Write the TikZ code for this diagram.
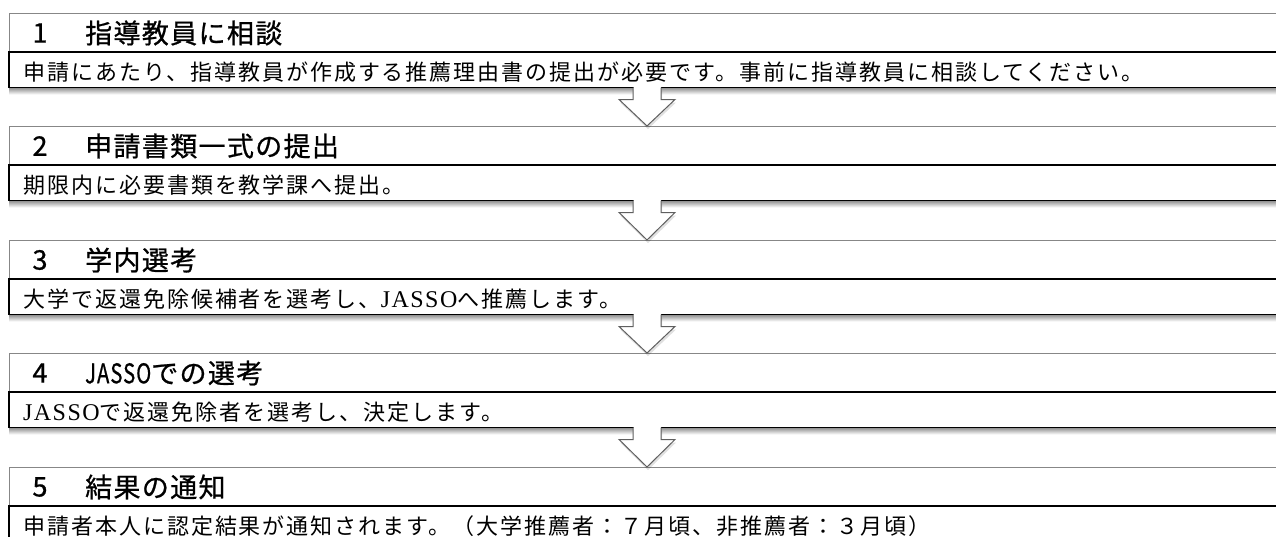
\documentclass[tikz,border=0pt]{standalone}
\usepackage{fontspec}
\usepackage{graphicx}
\newfontfamily\hdrfont{Noto Sans CJK JP}[LetterSpace=5,FakeBold=0.8]
\newfontfamily\bodyfont{Noto Sans CJK JP}[LetterSpace=9]
\newfontfamily\latfont{Liberation Serif}[LetterSpace=6]
\usetikzlibrary{calc}
\definecolor{hdrgray}{RGB}{135,135,135}
\definecolor{arrgray}{RGB}{95,95,95}
\tikzset{
  hdrbox/.style={draw=hdrgray, line width=0.9pt, fill=white, anchor=north west,
    minimum width=1290pt, minimum height=39pt, inner sep=0pt, outer sep=0pt},
  bodybox/.style={draw=black, line width=1.6pt, anchor=north west,
    minimum width=1290pt, minimum height=35.5pt, inner sep=0pt, outer sep=0pt},
  numtext/.style={inner sep=0pt, font=\hdrfont\fontsize{27}{32}\selectfont},
  hdrtext/.style={anchor=west, inner sep=0pt, font=\hdrfont\fontsize{27}{32}\selectfont},
  bodytext/.style={anchor=west, inner sep=0pt, font=\bodyfont\fontsize{22}{26}\selectfont},
  arrline/.style={draw=arrgray, line width=1pt, line join=miter},
  boxshadow/.style={top color=black!40, bottom color=white}
}
\newcommand\arrpath[2]{([xshift=#1-14pt,yshift=#2]as) -- ([xshift=#1-14pt,yshift=#2-12pt]as) -- ([xshift=#1-28pt,yshift=#2-12pt]as) -- ([xshift=#1,yshift=#2]at) -- ([xshift=#1+28pt,yshift=#2-12pt]as) -- ([xshift=#1+14pt,yshift=#2-12pt]as) -- ([xshift=#1+14pt,yshift=#2]as)}
\newcommand\flowarrow[2]{%
  \path (#1.south -| ax) coordinate (as) (#2.north -| ax) coordinate (at);
  \fill[black,opacity=0.12] \arrpath{1pt}{-3pt} -- cycle;
  \fill[white] \arrpath{0pt}{0pt} -- cycle;
  \fill[white] ([xshift=-13.5pt,yshift=1.2pt]as) rectangle ([xshift=13.5pt,yshift=-2pt]as);
  \draw[arrline] \arrpath{0pt}{0pt};
}
\newcommand\lat[1]{{\latfont\fontsize{24}{28}\selectfont #1}}
\begin{document}
\begin{tikzpicture}[x=1pt,y=-1pt]
\useasboundingbox (0,0) rectangle (1276,536);
\clip (0,0) rectangle (1276,536);
\coordinate (ax) at (647,0);
% boxes
\node[hdrbox] (h1) at (9,13) {};
\node[bodybox] (b1) at (h1.south west) {};
\node[hdrbox] (h2) at (9,126) {};
\node[bodybox] (b2) at (h2.south west) {};
\node[hdrbox] (h3) at (9,240) {};
\node[bodybox] (b3) at (h3.south west) {};
\node[hdrbox] (h4) at (9,353) {};
\node[bodybox] (b4) at (h4.south west) {};
\node[hdrbox] (h5) at (9,467) {};
\node[bodybox] (b5) at (h5.south west) {};
% shadows under body boxes
\foreach \b in {b1,b2,b3,b4}{
  \shade[boxshadow] ([yshift=-0.8pt]\b.south west) rectangle ([yshift=-7pt]\b.south east);
}
% header texts
\node[numtext] (n1) at (40,33) {1};
\node[hdrtext] (t1) at (85,33) {指導教員に相談};
\node[numtext] (n2) at (40,146) {2};
\node[hdrtext] (t2) at (85,146) {申請書類一式の提出};
\node[numtext] (n3) at (40,260) {3};
\node[hdrtext] (t3) at (85,260) {学内選考};
\node[numtext] (n4) at (40,373) {4};
\node[hdrtext] (t4) at (85,373) {\scalebox{0.75}[1]{JASSO}での選考};
\node[numtext] (n5) at (40,487) {5};
\node[hdrtext] (t5) at (85,487) {結果の通知};
% body texts
\node[bodytext] (d1) at (23,72) {申請にあたり、指導教員が作成する推薦理由書の提出が必要です。事前に指導教員に相談してください。};
\node[bodytext] (d2) at (23,185) {期限内に必要書類を教学課へ提出。};
\node[bodytext] (d3) at (23,299) {大学で返還免除候補者を選考し、\lat{JASSO}へ推薦します。};
\node[bodytext] (d4) at (23,412) {\lat{JASSO}で返還免除者を選考し、決定します。};
\node[bodytext] (d5) at (23,526) {申請者本人に認定結果が通知されます。（大学推薦者：７月頃、非推薦者：３月頃）};
% arrows
\flowarrow{b1}{h2}
\flowarrow{b2}{h3}
\flowarrow{b3}{h4}
\flowarrow{b4}{h5}
\end{tikzpicture}
\end{document}
